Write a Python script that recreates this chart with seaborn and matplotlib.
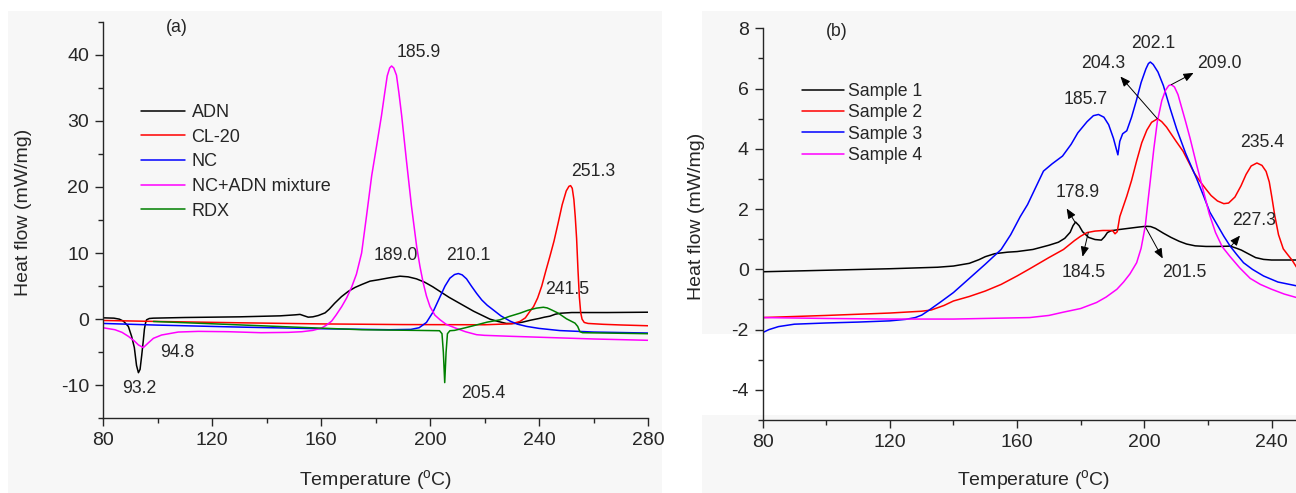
import numpy as np
import pandas as pd
import matplotlib
matplotlib.use("Agg")
import matplotlib.pyplot as plt
from matplotlib.patches import Rectangle
from matplotlib.ticker import MultipleLocator
import seaborn as sns

# ---------------- data: panel (a) ----------------
ADN = [(80, 0.2), (84, 0.15), (86, 0.0), (87.5, -0.3), (89.3, -1.1), (90.5, -2.6), (91.5, -4.3),
       (92.3, -7.0), (93.0, -8.1), (93.6, -7.6), (94.2, -5.5), (94.8, -3.2), (95.2, -1.5), (95.6, -0.6),
       (96.0, -0.1), (97, 0.1), (98.5, 0.15), (110, 0.25), (130, 0.35), (145, 0.5), (150.5, 0.65),
       (152.3, 0.72), (153.5, 0.55), (155.3, 0.3), (157, 0.35), (159, 0.55), (161.5, 0.95), (163, 1.5),
       (165, 2.4), (167.5, 3.4), (170, 4.2), (172.5, 4.8), (175, 5.25), (178, 5.75), (181, 5.95),
       (185, 6.25), (189, 6.5), (192, 6.4), (195, 6.1), (198, 5.6), (201, 4.9), (204, 4.1), (207, 3.3),
       (210, 2.6), (213, 1.9), (216, 1.2), (219, 0.6), (222, 0.0), (225, -0.35), (228, -0.65),
       (231, -0.65), (234, -0.45), (237, -0.15), (240, 0.1), (242, 0.3), (244, 0.45), (246, 0.75),
       (248, 0.9), (252, 1.0), (265, 1.0), (280, 1.05)]
CL20 = [(80, -0.2), (100, -0.35), (130, -0.55), (160, -0.72), (190, -0.82), (220, -0.85), (230, -0.7),
        (233, -0.35), (235, 0.2), (236.7, 1.2), (238, 1.9), (239.5, 3.2), (241, 5.0), (242.5, 7.3),
        (244, 9.5), (245.5, 11.8), (247, 14.5), (248.5, 17.3), (250, 19.4), (251, 20.1), (251.6, 20.2),
        (252.2, 19.8), (252.8, 18.1), (253.3, 15.5), (253.8, 12.2), (254.3, 7.5), (254.8, 3.4),
        (255.3, 1.0), (255.8, 0.0), (256.6, -0.5), (258, -0.65), (263.5, -0.78), (270, -0.88), (280, -1.0)]
NC = [(80, -0.65), (100, -0.9), (130, -1.2), (160, -1.45), (185, -1.6), (193, -1.55), (196, -1.3),
      (198.7, -0.5), (201, 1.0), (203.7, 3.4), (205.5, 5.0), (207.3, 6.2), (209, 6.75), (210.4, 6.9),
      (211.8, 6.7), (213.4, 6.1), (215.2, 5.0), (217.1, 3.9), (219, 2.9), (221, 2.1), (223.2, 1.4),
      (226, 0.5), (229.4, -0.3), (232, -0.75), (235.5, -1.1), (240, -1.4), (247.7, -1.73),
      (260, -1.95), (280, -2.1)]
NC_ADN = [(80, -1.3), (84.4, -1.6), (87, -2.0), (89.3, -2.6), (91.5, -3.3), (93, -3.9), (94.8, -4.3),
          (96.6, -3.6), (98.5, -2.9), (101.5, -2.4), (107.6, -1.95), (115, -1.85), (126, -1.9),
          (138, -2.05), (148, -2.0), (153, -1.9), (157, -1.7), (160.2, -1.35), (162, -0.9), (163.9, -0.3),
          (165.5, 0.6), (167.6, 1.9), (169.4, 3.2), (171.2, 4.8), (173, 6.8), (174.9, 10.0),
          (176.7, 15.6), (178.6, 21.7), (180.4, 26.2), (182.2, 30.8), (183.3, 34.0), (184.3, 36.8),
          (185.2, 38.0), (185.9, 38.3), (186.7, 38.0), (187.7, 36.9), (188.6, 34.2), (189.6, 30.8),
          (191.3, 24.2), (193.2, 17.1), (195.1, 11.0), (196.3, 8.0), (197.5, 5.5), (198.7, 3.5),
          (200, 1.9), (201.8, 0.6), (203.7, -0.1), (206, -0.8), (209.7, -1.4), (213, -1.9),
          (217.1, -2.35), (220, -2.45), (230, -2.6), (245, -2.8), (260, -3.0), (280, -3.2)]
RDX = [(98.5, -0.35), (120, -0.7), (150, -1.2), (175, -1.6), (195, -1.7), (203.5, -1.75), (204.4, -2.2),
       (204.9, -5.0), (205.4, -9.6), (205.9, -5.0), (206.4, -2.2), (207.3, -1.75), (209, -1.7),
       (213, -1.3), (217.1, -0.87), (221, -0.45), (225.7, -0.1), (229, 0.4), (233, 0.9), (236, 1.35),
       (239.1, 1.67), (241.6, 1.8), (243, 1.7), (244.6, 1.4), (247.1, 0.9), (250.1, 0.05), (252, -0.35),
       (253.2, -0.6), (254.2, -1.1), (255, -1.9), (256, -2.05), (280, -2.2)]
SERIES_A = ["ADN", "CL-20", "NC", "NC+ADN mixture", "RDX"]
COLORS_A = ["black", "#ff0000", "#0000ff", "#ff00ff", "#008000"]
PEAKS_A = [("185.9", 195.9, 40.4), ("251.3", 260.0, 22.4), ("189.0", 187.4, 9.6), ("210.1", 213.9, 9.6),
           ("241.5", 250.4, 4.45), ("94.8", 107.1, -5.1), ("93.2", 93.2, -10.5), ("205.4", 219.5, -11.2)]

# ---------------- data: panel (b) ----------------
S1 = [(80, -0.08), (100, -0.03), (120, 0.02), (135, 0.07), (140, 0.11), (145, 0.2), (148, 0.32),
      (150, 0.42), (153, 0.52), (157, 0.57), (160, 0.59), (165, 0.66), (170, 0.8), (173, 0.9),
      (175, 1.03), (176.7, 1.23), (177.6, 1.45), (178.4, 1.57), (179.5, 1.45), (180.6, 1.25),
      (182.5, 1.06), (184.5, 0.99), (186.5, 0.97), (187.5, 1.08), (188.4, 1.22), (189.5, 1.28),
      (192, 1.32), (195, 1.36), (198, 1.4), (200.5, 1.43), (202, 1.42), (203.5, 1.36), (206, 1.2),
      (208.4, 1.06), (211, 0.93), (213.3, 0.84), (216, 0.78), (219.4, 0.76), (223, 0.76), (227, 0.77),
      (229, 0.7), (230.5, 0.64), (233, 0.5), (235, 0.39), (237.5, 0.33), (240, 0.31), (248, 0.31)]
S2 = [(80, -1.6), (100, -1.53), (120, -1.45), (130, -1.39), (133, -1.35), (137, -1.2), (140, -1.05),
      (145, -0.9), (150, -0.72), (155, -0.5), (160, -0.22), (164, 0.02), (170, 0.39), (174.6, 0.66),
      (178, 0.95), (180, 1.1), (182, 1.22), (184.5, 1.27), (187, 1.29), (190, 1.29), (190.8, 1.18),
      (191.5, 1.25), (192.3, 1.75), (194.5, 2.43), (196, 2.95), (197.6, 3.6), (199.2, 4.2),
      (200.8, 4.62), (202.3, 4.88), (204.2, 5.0), (205.5, 4.9), (207, 4.72), (208.4, 4.5), (210, 4.25),
      (212.2, 3.92), (214, 3.55), (215.7, 3.2), (217.5, 2.92), (219.4, 2.66), (221, 2.45), (223, 2.27),
      (225, 2.18), (226.5, 2.2), (228.5, 2.4), (230.4, 2.77), (232, 3.15), (233.6, 3.43),
      (235.4, 3.53), (237, 3.45), (238.3, 3.25), (239.3, 2.9), (240.1, 2.4), (241, 1.8), (242.2, 1.15),
      (243.7, 0.68), (245, 0.5), (246.5, 0.3), (248, 0.05)]
S3 = [(80, -2.1), (82, -2.0), (85, -1.9), (90, -1.82), (100, -1.78), (110, -1.75), (120, -1.71),
      (125, -1.66), (128, -1.6), (130, -1.52), (132, -1.38), (136, -1.08), (140, -0.77), (145, -0.3),
      (150, 0.17), (155, 0.66), (158, 1.15), (161, 1.75), (163.3, 2.15), (166, 2.75), (168.3, 3.26),
      (171, 3.5), (174.3, 3.76), (177, 4.15), (179.1, 4.53), (182, 4.9), (184, 5.1), (185.6, 5.14),
      (187.3, 5.05), (188.8, 4.8), (190.3, 4.35), (191.7, 3.8), (192.3, 4.25), (193.2, 4.5),
      (194.5, 4.6), (196, 5.05), (197.5, 5.6), (199, 6.2), (200.5, 6.65), (201.3, 6.83), (201.9, 6.88),
      (202.8, 6.8), (204.3, 6.55), (206, 6.1), (208.1, 5.35), (210.2, 4.65), (213, 3.85), (216.5, 3.0),
      (218.6, 2.45), (220.6, 1.9), (222.8, 1.5), (225, 1.1), (227, 0.77), (229, 0.5), (231.2, 0.22),
      (234, 0.0), (237.5, -0.22), (242, -0.42), (248, -0.55)]
S4 = [(80, -1.6), (100, -1.63), (120, -1.65), (140, -1.65), (164, -1.6), (170, -1.53), (174.6, -1.42),
      (180, -1.3), (185, -1.1), (188, -0.92), (191.4, -0.66), (193.5, -0.42), (195.5, -0.15),
      (197.6, 0.22), (199, 0.7), (200.3, 1.43), (201.2, 2.3), (201.9, 2.95), (203, 4.0), (204.1, 4.9),
      (205.5, 5.6), (206.7, 5.95), (207.7, 6.1), (208.5, 6.13), (209.5, 6.05), (210.6, 5.8),
      (211.8, 5.35), (213, 4.9), (214.4, 4.35), (216.5, 3.45), (218.6, 2.6), (220.4, 1.85),
      (222.4, 1.22), (224.5, 0.75), (227, 0.42), (230, 0.05), (233.3, -0.3), (236.5, -0.5),
      (240, -0.66), (244, -0.82), (248, -0.94)]
SERIES_B = ["Sample 1", "Sample 2", "Sample 3", "Sample 4"]
COLORS_B = ["black", "#ff0000", "#0000ff", "#ff00ff"]
PEAKS_B = [("202.1", 202.9, 7.5), ("185.7", 181.6, 5.63), ("235.4", 237.1, 4.2)]
ARROWS_B = [("204.3", 187.1, 6.84, 204.1, 5.0, 192.5, 6.4),
            ("209.0", 223.7, 6.84, 208.5, 6.13, 215.5, 6.52),
            ("178.9", 179.1, 2.55, 178.2, 1.57, 175.6, 2.02),
            ("184.5", 181.0, -0.11, 182.4, 1.22, 180.6, 0.42),
            ("201.5", 212.7, -0.11, 200.3, 1.42, 205.8, 0.36),
            ("227.3", 234.6, 1.61, 227.3, 0.77, 230.1, 1.12)]


def to_frame(pairs, name):
    arr = np.array(pairs, dtype=float)
    return pd.DataFrame({"T": arr[:, 0], "Q": arr[:, 1], "series": name})


sns.set_style("ticks")
plt.rcParams["font.family"] = ["Liberation Sans", "DejaVu Sans"]
plt.rcParams["mathtext.fontset"] = "custom"
plt.rcParams["mathtext.rm"] = "Liberation Sans"
plt.rcParams["axes.linewidth"] = 1.0
plt.rcParams["axes.unicode_minus"] = False

W, H = 1296, 493
fig = plt.figure(figsize=(W / 100, H / 100), dpi=100)
fig.patch.set_facecolor("white")
bg = "#f7f7f7"
fig.add_artist(Rectangle((8 / W, 0), (662 - 8) / W, 1 - 11 / H, transform=fig.transFigure,
                         facecolor=bg, edgecolor="none", zorder=-10))
fig.add_artist(Rectangle((702 / W, 0), (W - 702) / W, 1 - 11 / H, transform=fig.transFigure,
                         facecolor=bg, edgecolor="none", zorder=-10))
fig.add_artist(Rectangle((702 / W, 1 - 415 / H), (W - 702) / W, (415 - 334) / H,
                         transform=fig.transFigure, facecolor="white", edgecolor="none", zorder=-9))

axA = fig.add_axes([103 / W, 1 - 418.3 / H, (648 - 103) / W, (418.3 - 21.7) / H])
axB = fig.add_axes([762.6 / W, 1 - 420 / H, (W - 762.6) / W, (420 - 28.3) / H])

LW = 1.1
dfA = pd.concat([to_frame(p, n) for p, n in zip([ADN, CL20, NC, NC_ADN, RDX], SERIES_A)])
for name, col in zip(SERIES_A, COLORS_A):
    sns.lineplot(data=dfA[dfA.series == name], x="T", y="Q", ax=axA, color=col, lw=LW,
                 sort=False, estimator=None, label=name)

dfB = pd.concat([to_frame(p, n) for p, n in zip([S1, S2, S3, S4], SERIES_B)])
for name, col in zip(SERIES_B, COLORS_B):
    sns.lineplot(data=dfB[dfB.series == name], x="T", y="Q", ax=axB, color=col, lw=LW,
                 sort=False, estimator=None, label=name)

TF = 14
for ax in (axA, axB):
    ax.set_facecolor("none")
    for s in ("top", "right"):
        ax.spines[s].set_visible(False)
    ax.tick_params(which="major", direction="out", length=6, width=1.0, labelsize=TF, pad=4)
    ax.tick_params(which="minor", direction="out", length=3.5, width=1.0)
    ax.set_xlabel("Temperature ($\\mathregular{^{o}}$C)", fontsize=TF)
    ax.set_ylabel("Heat flow (mW/mg)", fontsize=TF)

axA.set_xlim(80, 280)
axA.set_ylim(-15, 45)
axA.xaxis.set_major_locator(MultipleLocator(40))
axA.xaxis.set_minor_locator(MultipleLocator(20))
axA.yaxis.set_minor_locator(MultipleLocator(5))
axA.set_yticks([-10, 0, 10, 20, 30, 40])
axA.xaxis.set_label_coords(0.5, -0.125)
axA.xaxis.label.set_va("top")
axA.yaxis.set_label_coords(-0.131, 0.52)

axB.set_xlim(80, 247.7)
axB.set_ylim(-5, 8)
axB.xaxis.set_major_locator(MultipleLocator(40))
axB.xaxis.set_minor_locator(MultipleLocator(20))
axB.set_yticks([-4, -2, 0, 2, 4, 6, 8])
axB.yaxis.set_minor_locator(MultipleLocator(1))
axB.xaxis.set_label_coords(0.508, -0.1225)
axB.xaxis.label.set_va("top")
axB.yaxis.set_label_coords(-0.108, 0.52)

AF = 12.7
axA.text(107.1, 44.1, "(a)", fontsize=AF, ha="center", va="center")
for txt, x, y in PEAKS_A:
    axA.text(x, y, txt, fontsize=AF, ha="center", va="center")

axB.text(103.3, 7.89, "(b)", fontsize=AF, ha="center", va="center", clip_on=False)
for txt, x, y in PEAKS_B:
    axB.text(x, y, txt, fontsize=AF, ha="center", va="center")
for txt, tx, ty, x0, y0, x1, y1 in ARROWS_B:
    axB.text(tx, ty, txt, fontsize=AF, ha="center", va="center")
    axB.annotate("", xy=(x1, y1), xytext=(x0, y0),
                 arrowprops=dict(arrowstyle="-|>,head_length=0.6,head_width=0.25", color="black",
                                 lw=0.7, shrinkA=0, shrinkB=0))

legA = axA.legend(loc="upper left", bbox_to_anchor=(0.0697, 0.792), frameon=False, fontsize=13,
                  handlelength=2.44, handletextpad=0.36, labelspacing=0.42, borderaxespad=0,
                  borderpad=0)
legB = axB.legend(loc="upper left", bbox_to_anchor=(0.0748, 0.86), frameon=False, fontsize=12.7,
                  handlelength=2.36, handletextpad=0.23, labelspacing=0.24, borderaxespad=0,
                  borderpad=0)
for leg in (legA, legB):
    for h in leg.get_lines():
        h.set_linewidth(LW)

fig.savefig("out.png", dpi=100, facecolor=fig.get_facecolor())
